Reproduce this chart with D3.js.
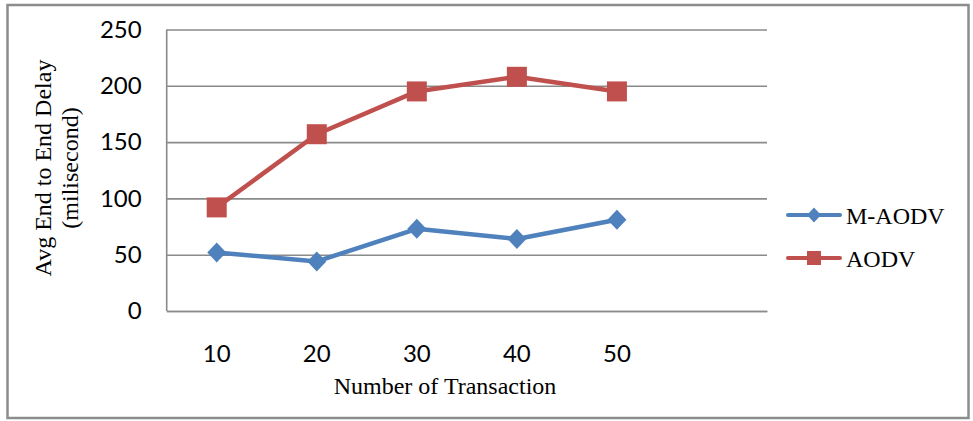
<!DOCTYPE html>
<html>
<head>
<meta charset="utf-8">
<script src="https://cdn.jsdelivr.net/npm/d3@7"></script>
<style>
  html, body { margin: 0; padding: 0; background: #fff; }
  svg { display: block; }
</style>
</head>
<body>
<script>
// Transaction counts (last slot is an empty category on the axis)
const categories = ["10", "20", "30", "40", "50", ""];
const mAodv = [52, 44, 73, 64, 81];
const aodv = [92, 157, 195, 208, 195];
const yTicks = [0, 50, 100, 150, 200, 250];
const seriesNames = ["M-AODV", "AODV"];

const W = 973, H = 421;
const plot = { left: 166.7, right: 767, top: 29.5, bottom: 311 };
const blue = "#4F81BD", red = "#C0504D";
const gridColor = "#8a8a8a";
const numFont = "Lato, 'Open Sans', sans-serif";
const serif = "'Times New Roman', 'Liberation Serif', serif";

const svg = d3.select("body").append("svg").attr("width", W).attr("height", H);

// Outer chart frame
svg.append("rect")
  .attr("x", 7.5).attr("y", 5).attr("width", 961).attr("height", 413)
  .attr("fill", "#fff").attr("stroke", "#8c8c8c").attr("stroke-width", 2.5);

const x = d3.scaleBand().domain(categories).range([plot.left, plot.right]).paddingInner(0).paddingOuter(0);
const y = d3.scaleLinear().domain([0, 250]).range([plot.bottom, plot.top]);

// Horizontal gridlines + value labels
const yAxis = svg.append("g")
  .attr("transform", `translate(${plot.left},0)`)
  .call(d3.axisLeft(y).tickValues(yTicks).tickSize(-(plot.right - plot.left)).tickPadding(25));
yAxis.select(".domain").remove();
yAxis.selectAll(".tick line").attr("stroke", gridColor).attr("stroke-width", 1.6);
yAxis.selectAll(".tick text")
  .attr("font-family", numFont).attr("font-size", 24).attr("fill", "#000");

// Left axis line
svg.append("line")
  .attr("x1", plot.left).attr("x2", plot.left)
  .attr("y1", plot.top).attr("y2", plot.bottom)
  .attr("stroke", gridColor).attr("stroke-width", 1.6);

// Category axis
const xAxis = svg.append("g")
  .attr("transform", `translate(0,${plot.bottom})`)
  .call(d3.axisBottom(x).tickSize(0).tickPadding(34));
xAxis.select(".domain").attr("stroke", gridColor).attr("stroke-width", 1.6);
xAxis.selectAll(".tick text")
  .attr("font-family", numFont).attr("font-size", 24).attr("fill", "#000");

// Axis titles
svg.append("text")
  .attr("x", 445).attr("y", 394)
  .attr("text-anchor", "middle")
  .attr("font-family", serif).attr("font-size", 24).attr("fill", "#000")
  .text("Number of Transaction");

const yTitle = svg.append("g").attr("transform", "translate(0,168) rotate(-90)");
yTitle.append("text")
  .attr("x", 0).attr("y", 51)
  .attr("text-anchor", "middle")
  .attr("font-family", serif).attr("font-size", 24).attr("fill", "#000")
  .text("Avg End to End Delay");
yTitle.append("text")
  .attr("x", 0).attr("y", 78)
  .attr("text-anchor", "middle")
  .attr("font-family", serif).attr("font-size", 24).attr("fill", "#000")
  .text("(milisecond)");

const cx = (i) => x(categories[i]) + x.bandwidth() / 2;
const line = d3.line().x((d, i) => cx(i)).y(d => y(d));

function drawDiamond(g, px, py, w, h) {
  g.append("path")
    .attr("d", `M${px},${py - h / 2}L${px + w / 2},${py}L${px},${py + h / 2}L${px - w / 2},${py}Z`)
    .attr("fill", blue);
}
function drawSquare(g, px, py, s) {
  g.append("rect")
    .attr("x", px - s / 2).attr("y", py - s / 2)
    .attr("width", s).attr("height", s)
    .attr("fill", red);
}

// M-AODV series
const gBlue = svg.append("g");
gBlue.append("path").datum(mAodv).attr("d", line)
  .attr("fill", "none").attr("stroke", blue).attr("stroke-width", 4.5).attr("stroke-linejoin", "round");
mAodv.forEach((v, i) => drawDiamond(gBlue, cx(i), y(v), 19, 20));

// AODV series
const gRed = svg.append("g");
gRed.append("path").datum(aodv).attr("d", line)
  .attr("fill", "none").attr("stroke", red).attr("stroke-width", 4.5).attr("stroke-linejoin", "round");
aodv.forEach((v, i) => drawSquare(gRed, cx(i), y(v), 20));

// Legend
const legend = svg.append("g");
const legendRows = [
  { name: seriesNames[0], color: blue, y: 215, marker: "diamond" },
  { name: seriesNames[1], color: red, y: 258, marker: "square" }
];
legendRows.forEach(r => {
  legend.append("line")
    .attr("x1", 788).attr("x2", 840).attr("y1", r.y).attr("y2", r.y)
    .attr("stroke", r.color).attr("stroke-width", 4).attr("stroke-linecap", "round");
  if (r.marker === "diamond") drawDiamond(legend, 814, r.y, 14, 15);
  else drawSquare(legend, 814, r.y, 14);
  legend.append("text")
    .attr("x", 846).attr("y", r.y + 9)
    .attr("font-family", serif).attr("font-size", 24).attr("fill", "#000")
    .text(r.name);
});
</script>
</body>
</html>
